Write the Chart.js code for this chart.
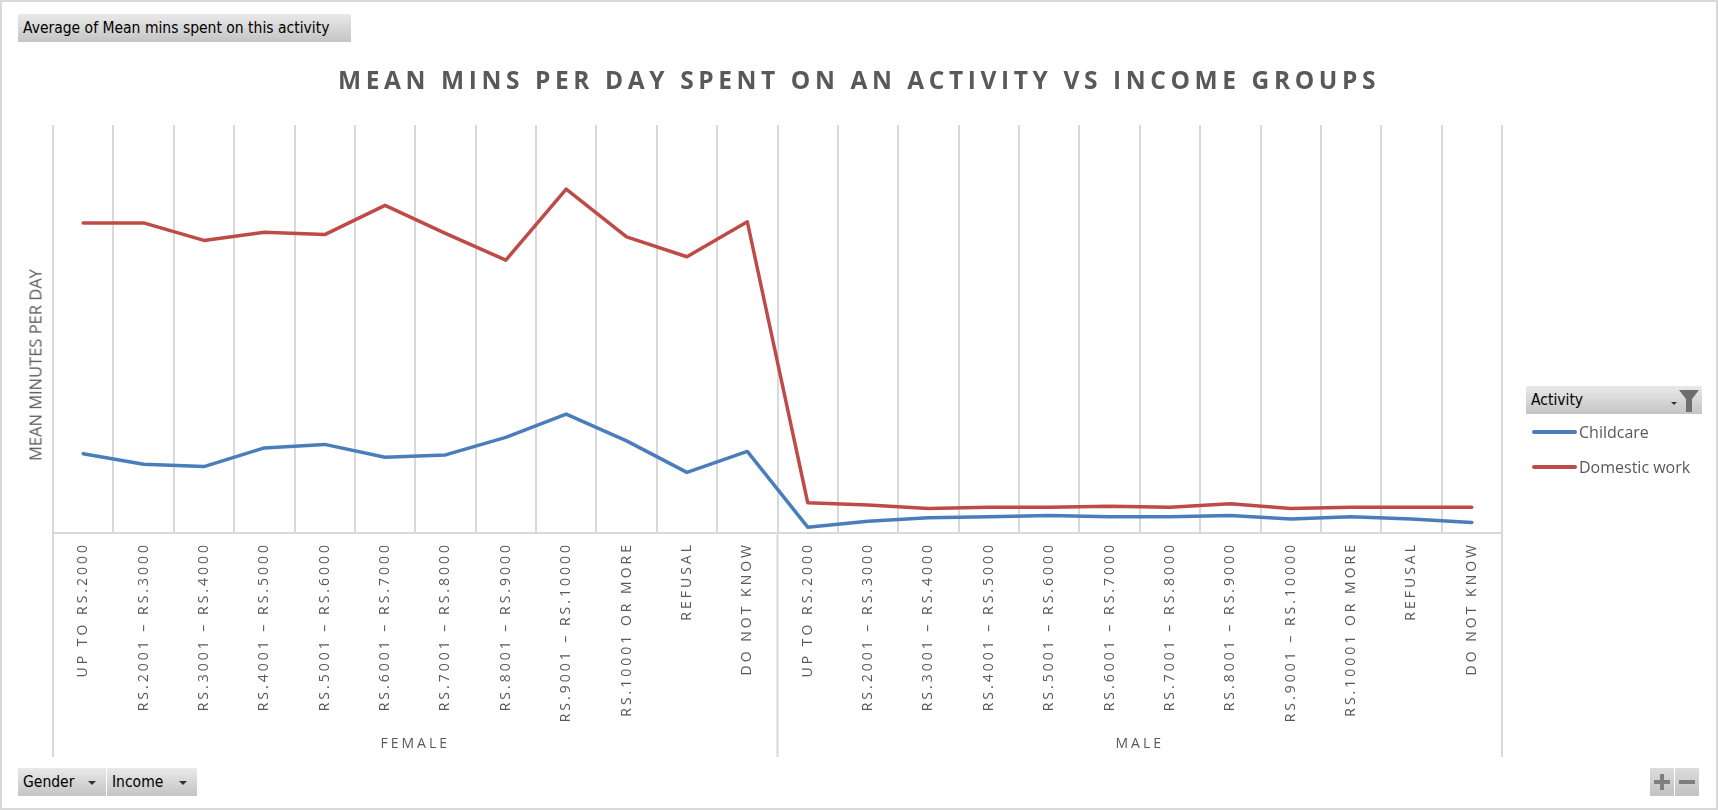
<!DOCTYPE html>
<html>
<head>
<meta charset="utf-8">
<script src="https://cdn.jsdelivr.net/npm/chart.js@4.4.1/dist/chart.umd.min.js"></script>
<style>
    body { margin: 0; background: #fff; overflow: hidden; }
    #wrap { position: relative; width: 1718px; height: 810px; background: #fff; }
    #chartBox { position: absolute; left: 0; top: 0; width: 1718px; height: 810px; }
    #frame { position: absolute; left: 0; top: 0; width: 1718px; height: 810px; box-sizing: border-box; border: 2px solid #d9d9d9; pointer-events: none; }
    .field {
        position: absolute; height: 28px; line-height: 28px; box-sizing: border-box; padding-left: 5px;
        background: linear-gradient(#e9e9e9, #c4c4c4); color: #000;
        font-family: 'DejaVu Sans Condensed', 'DejaVu Sans', sans-serif; font-size: 15.5px; white-space: nowrap;
    }
    .field .arrow { position: absolute; top: 13px; width: 0; height: 0; border-left: 4px solid transparent; border-right: 4px solid transparent; border-top: 4px solid #333; }
    #chartTitle {
        position: absolute; left: 0; top: 68px; width: 1718px; text-align: center; line-height: 24px;
        font-family: 'Open Sans', sans-serif; font-weight: bold; font-size: 24.5px; letter-spacing: 4.6px; color: #595959; white-space: nowrap;
    }
    #yTitle {
        position: absolute; left: 35px; top: 365px; transform: translate(-50%, -50%) rotate(-90deg);
        font-family: 'Open Sans', sans-serif; font-size: 16.5px; color: #595959; white-space: nowrap;
    }
    .legendItem { position: absolute; left: 1532px; height: 24px; }
    .legendItem .line { position: absolute; left: 0; top: 10px; width: 45px; height: 4px; border-radius: 2px; }
    .legendItem .txt { position: absolute; left: 47px; top: 0; line-height: 24px; font-family: 'Open Sans', sans-serif; font-size: 16px; color: #595959; white-space: nowrap; }
    .zoomBtn { position: absolute; top: 768px; width: 24px; height: 28px; background: linear-gradient(#dcdcdc, #c2c2c2); }
    .zoomBtn .bar { position: absolute; background: #7f7f7f; }
</style>
</head>
<body>
<div id="wrap">
    <div id="chartBox"><canvas id="grafico"></canvas></div>

    <div class="field" style="left:18px; top:14px; width:333px;">Average of Mean mins spent on this activity</div>
    <div id="chartTitle">MEAN MINS PER DAY SPENT ON AN ACTIVITY VS INCOME GROUPS</div>
    <div id="yTitle">MEAN MINUTES PER DAY</div>

    <div class="field" style="left:1526px; top:386px; width:176px;">Activity
        <svg style="position:absolute; left:142px; top:2px;" width="32" height="25" viewBox="0 0 32 25">
            <polygon points="3,14 9,14 6,17" fill="#333"/>
            <polygon points="11,2 31,2 24,11 24,24 18,24 18,11" fill="#6e6e6e"/>
        </svg>
    </div>
    <div id="legenda"></div>

    <div class="field" style="left:18px; top:768px; width:88px;">Gender<span class="arrow" style="left:70px"></span></div>
    <div class="field" style="left:107px; top:768px; width:90px;">Income<span class="arrow" style="left:72px"></span></div>

    <div class="zoomBtn" style="left:1650px;">
        <div class="bar" style="left:4px; top:12px; width:16px; height:4px;"></div>
        <div class="bar" style="left:10px; top:6px; width:4px; height:16px;"></div>
    </div>
    <div class="zoomBtn" style="left:1675px;">
        <div class="bar" style="left:4px; top:12px; width:16px; height:4px;"></div>
    </div>

    <div id="frame"></div>
</div>

<script>
// categorias (repetidas para cada gênero)
const incomeGroups = [
    'UP TO RS.2000',
    'RS.2001 – RS.3000',
    'RS.3001 – RS.4000',
    'RS.4001 – RS.5000',
    'RS.5001 – RS.6000',
    'RS.6001 – RS.7000',
    'RS.7001 – RS.8000',
    'RS.8001 – RS.9000',
    'RS.9001 – RS.10000',
    'RS.10001 OR MORE',
    'REFUSAL',
    'DO NOT KNOW'
];
const genders = ['FEMALE', 'MALE'];

// valores (minutos por dia)
const childcareFemale = [68, 59, 57, 73, 76, 65, 67, 82, 102, 79, 52, 70];
const childcareMale = [5, 10, 13, 14, 15, 14, 14, 15, 12, 14, 12, 9];
const domesticFemale = [266, 266, 251, 258, 256, 281, 257, 234, 295, 254, 237, 267];
const domesticMale = [26, 24, 21, 22, 22, 23, 22, 25, 21, 22, 22, 22];

const seriesNames = ['Childcare', 'Domestic work'];
const seriesColors = ['#4a7ebb', '#be4b48'];
const yMin = 0;
const yMax = 350;

// escala de categorias que desenha os rótulos com espaçamento entre letras
class SpacedCategoryScale extends Chart.CategoryScale {
    drawLabels(area) {
        const ctx = this.ctx;
        ctx.save();
        ctx.letterSpacing = (this.options.ticks.letterSpacing || 0) + 'px';
        super.drawLabels(area);
        ctx.restore();
    }
}
SpacedCategoryScale.id = 'spacedCategory';
SpacedCategoryScale.defaults = Chart.CategoryScale.defaults;
Chart.register(SpacedCategoryScale);

// linhas verticais que separam FEMALE / MALE abaixo do eixo
const groupDividers = {
    id: 'groupDividers',
    afterDraw(chart) {
        const { ctx, chartArea, scales } = chart;
        const x = scales.x;
        const half = (x.getPixelForValue(1) - x.getPixelForValue(0)) / 2;
        const edges = [chartArea.left];
        for (let g = 1; g < genders.length; g++) {
            edges.push(x.getPixelForValue(g * incomeGroups.length - 1) + half);
        }
        edges.push(chartArea.right);
        ctx.save();
        ctx.strokeStyle = '#d9d9d9';
        ctx.lineWidth = 2;
        edges.forEach(px => {
            ctx.beginPath();
            ctx.moveTo(px, chartArea.bottom);
            ctx.lineTo(px, scales.x2.bottom);
            ctx.stroke();
        });
        ctx.restore();
    }
};

const tickFont = { family: 'Open Sans', size: 14 };

const dadosGrafico = {
    labels: genders.flatMap(() => incomeGroups),
    datasets: [{
        label: seriesNames[0],
        data: childcareFemale.concat(childcareMale),
        borderColor: seriesColors[0],
        backgroundColor: seriesColors[0]
    }, {
        label: seriesNames[1],
        data: domesticFemale.concat(domesticMale),
        borderColor: seriesColors[1],
        backgroundColor: seriesColors[1]
    }]
};

const configGrafico = {
    type: 'line',
    data: dadosGrafico,
    options: {
        responsive: true,
        maintainAspectRatio: false,
        animation: false,
        elements: {
            line: { borderWidth: 3.5, tension: 0, borderCapStyle: 'round', borderJoinStyle: 'round', fill: false },
            point: { radius: 0, hoverRadius: 0 }
        },
        layout: { padding: { top: 125, left: 53, right: 216, bottom: 53 } },
        plugins: {
            legend: { display: false },
            tooltip: { enabled: false },
            title: { display: false }
        },
        scales: {
            x: {
                type: 'spacedCategory',
                position: 'bottom',
                weight: 0,
                offset: true,
                grid: { offset: true, color: '#d9d9d9', lineWidth: 2, drawTicks: false },
                border: { color: '#d9d9d9', width: 2 },
                ticks: {
                    autoSkip: false, minRotation: 90, maxRotation: 90, padding: 9,
                    color: '#595959', font: tickFont, letterSpacing: 3
                },
                afterFit: scale => { scale.height = 197; }
            },
            x2: {
                type: 'spacedCategory',
                labels: genders,
                position: 'bottom',
                weight: 1,
                offset: true,
                grid: { display: false, drawTicks: false },
                border: { display: false },
                ticks: { padding: 6, color: '#595959', font: tickFont, letterSpacing: 3 },
                afterFit: scale => { scale.height = 27; }
            },
            y: {
                display: false,
                min: yMin,
                max: yMax
            }
        }
    },
    plugins: [groupDividers]
};

const grafico = new Chart(document.getElementById('grafico'), configGrafico);

// legenda montada a partir dos datasets do gráfico
const legenda = document.getElementById('legenda');
const legendTops = [420, 455];
grafico.data.datasets.forEach((ds, i) => {
    const item = document.createElement('div');
    item.className = 'legendItem';
    item.style.top = legendTops[i] + 'px';
    item.innerHTML = '<div class="line" style="background:' + ds.borderColor + '"></div><div class="txt">' + ds.label + '</div>';
    legenda.appendChild(item);
});
</script>
</body>
</html>
